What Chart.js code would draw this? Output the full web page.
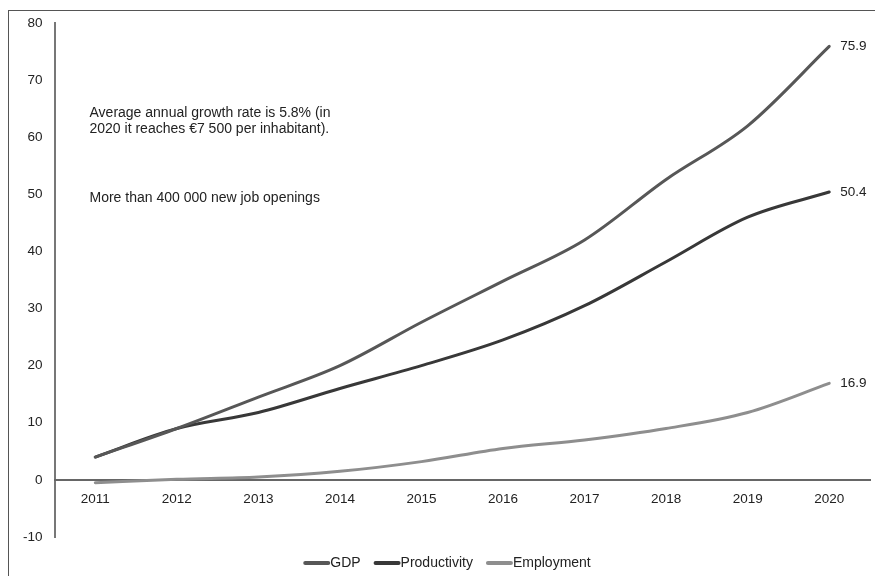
<!DOCTYPE html>
<html><head><meta charset="utf-8">
<script src="https://cdn.jsdelivr.net/npm/chart.js@4.4.1/dist/chart.umd.min.js"></script>
<style>
html,body{margin:0;padding:0;background:#fff;}
#wrap{position:relative;width:875px;height:576px;overflow:hidden;}
#frame{position:absolute;left:8px;top:10px;width:900px;height:600px;border-left:1px solid #555;border-top:1px solid #555;}
canvas{position:absolute;left:0;top:0;}
</style></head><body>
<div id="wrap"><div id="frame"></div><canvas id="c" width="875" height="576"></canvas></div>
<script>
const years = ['2011','2012','2013','2014','2015','2016','2017','2018','2019','2020'];
const gdp = [4.0, 9.0, 14.5, 20.0, 27.6, 34.8, 42.0, 52.6, 62.0, 75.9];
const productivity = [4.0, 9.0, 11.8, 16.0, 20.0, 24.5, 30.5, 38.2, 46.0, 50.4];
const employment = [-0.5, 0.1, 0.5, 1.5, 3.2, 5.5, 7.0, 9.0, 11.8, 16.9];
const seriesNames = ['GDP', 'Productivity', 'Employment'];
const yMin = -10, yMax = 80, yStep = 10;
const notes = ['Average annual growth rate is 5.8% (in', '2020 it reaches €7 500 per inhabitant).', 'More than 400 000 new job openings'];

const FONT = 'Liberation Sans, Arial, sans-serif';
const colors = ['#575757', '#383838', '#8e8e8e'];

const overlay = {
  id: 'overlay',
  afterDatasetsDraw(chart) {
    const ctx = chart.ctx;
    ctx.save();
    ctx.fillStyle = '#222';
    ctx.textBaseline = 'middle';
    ctx.textAlign = 'left';
    ctx.font = '13.5px ' + FONT;
    chart.data.datasets.forEach((ds, i) => {
      const meta = chart.getDatasetMeta(i);
      const pt = meta.data[meta.data.length - 1];
      const v = ds.data[ds.data.length - 1];
      ctx.fillText(v.toFixed(1), pt.x + 11, pt.y);
    });
    const a = chart.chartArea;
    ctx.font = '14px ' + FONT;
    ctx.fillText(notes[0], a.left + 35, 113);
    ctx.fillText(notes[1], a.left + 35, 129);
    ctx.fillText(notes[2], a.left + 35, 198);

    // legend
    const sw = 25, gap = 14, ly = 563;
    const widths = chart.data.datasets.map(ds => sw + 1 + ctx.measureText(ds.label).width);
    const total = widths.reduce((s, w) => s + w, 0) + gap * (widths.length - 1);
    let x = chart.width / 2 + 10 - total / 2;
    chart.data.datasets.forEach((ds, i) => {
      ctx.strokeStyle = ds.borderColor;
      ctx.lineWidth = 4;
      ctx.lineCap = 'round';
      ctx.beginPath();
      ctx.moveTo(x + 1, ly);
      ctx.lineTo(x + sw - 1, ly);
      ctx.stroke();
      ctx.fillText(ds.label, x + sw + 1, ly + 0.5);
      x += widths[i] + gap;
    });
    ctx.restore();
  }
};

new Chart(document.getElementById('c'), {
  type: 'line',
  data: {
    labels: years,
    datasets: [gdp, productivity, employment].map((d, i) => ({
      label: seriesNames[i],
      data: d,
      borderColor: colors[i],
      backgroundColor: colors[i],
      borderWidth: 3,
      pointRadius: 0,
      tension: 0.4,
      cubicInterpolationMode: 'monotone',
      borderCapStyle: 'round'
    }))
  },
  options: {
    responsive: false,
    animation: false,
    devicePixelRatio: 1,
    layout: { padding: { left: 11, right: 5, top: 23, bottom: 39 } },
    plugins: {
      legend: { display: false },
      tooltip: { enabled: false }
    },
    scales: {
      y: {
        min: yMin, max: yMax,
        ticks: { stepSize: yStep, color: '#222', font: { family: FONT, size: 13.5 }, padding: 12 },
        grid: { display: false, drawTicks: false },
        border: { display: true, color: '#777', width: 2 }
      },
      x: {
        position: { y: 0 },
        offset: true,
        ticks: { color: '#222', font: { family: FONT, size: 13.5 }, padding: 11, maxRotation: 0 },
        grid: { display: false, drawTicks: false },
        border: { display: true, color: '#666', width: 2 }
      }
    }
  },
  plugins: [overlay]
});
</script>
</body></html>
